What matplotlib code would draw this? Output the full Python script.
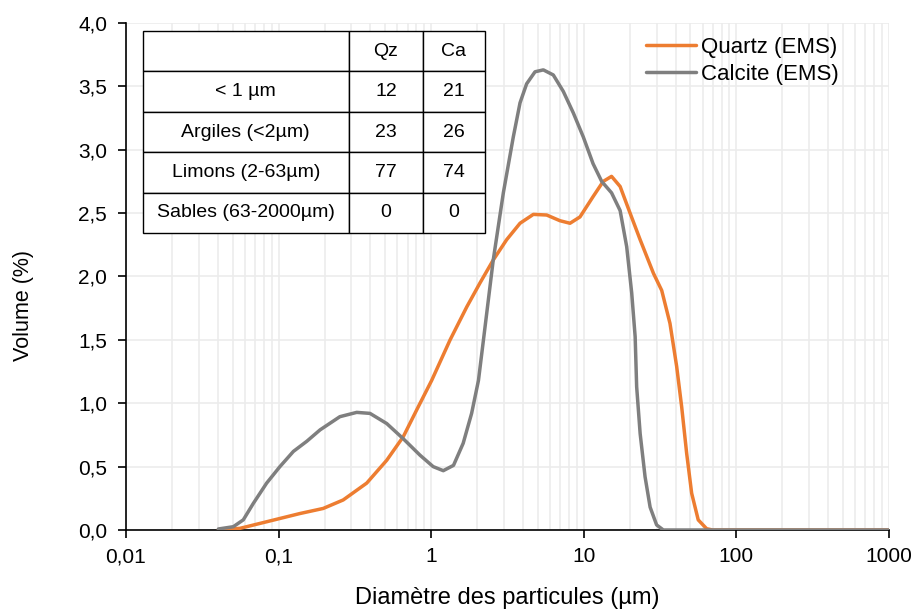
import matplotlib
matplotlib.use("Agg")
import matplotlib.pyplot as plt
from matplotlib.ticker import FixedLocator, FuncFormatter, NullFormatter, LogLocator

plt.rcParams['font.family'] = ['Liberation Sans', 'DejaVu Sans']

# Data
quartz_x = [0.0403, 0.0558, 0.0835, 0.138, 0.196, 0.265, 0.378, 0.511, 0.656, 0.803, 1.007,
            1.33, 1.71, 2.09, 2.55, 3.12, 3.82, 4.67, 5.71, 6.98, 8.12, 9.44, 11.5, 13.4,
            15.2, 17.3, 20.1, 23.4, 28.6, 32.4, 36.7, 40.6, 43.8, 47.2, 50.9, 56.2, 63.8,
            70, 1000]
quartz_y = [0.0, 0.013, 0.065, 0.13, 0.17, 0.237, 0.37, 0.55, 0.736, 0.947, 1.18,
            1.50, 1.76, 1.95, 2.13, 2.29, 2.42, 2.49, 2.485, 2.44, 2.42, 2.47, 2.63, 2.75,
            2.79, 2.71, 2.50, 2.29, 2.025, 1.89, 1.63, 1.29, 0.97, 0.605, 0.29, 0.08, 0.01,
            0.0, 0.0]

calcite_x = [0.0403, 0.0505, 0.0587, 0.0683, 0.0835, 0.102, 0.125, 0.153, 0.187, 0.252,
             0.325, 0.397, 0.511, 0.656, 0.845, 1.03, 1.2, 1.40, 1.62, 1.84, 2.04, 2.2,
             2.55, 2.97, 3.45, 3.82, 4.22, 4.79, 5.43, 6.31, 7.34, 8.54, 9.93, 11.5, 13.1,
             15.2, 17.3, 19.1, 20.6, 21.7, 22.2, 23.4, 25.2, 27.2, 30.0, 33.2, 1000]
calcite_y = [0.008, 0.026, 0.08, 0.21, 0.37, 0.50, 0.62, 0.70, 0.79, 0.894,
             0.928, 0.92, 0.84, 0.72, 0.59, 0.50, 0.468, 0.51, 0.684, 0.92, 1.18, 1.50,
             2.13, 2.66, 3.10, 3.37, 3.52, 3.615, 3.63, 3.59, 3.46, 3.29, 3.10, 2.89, 2.75,
             2.66, 2.52, 2.235, 1.87, 1.525, 1.13, 0.76, 0.42, 0.18, 0.04, 0.0, 0.0]

table_rows = ["< 1 µm", "Argiles (<2µm)", "Limons (2-63µm)", "Sables (63-2000µm)"]
table_cols = ["Qz", "Ca"]
qz_vals = [12, 23, 77, 0]
ca_vals = [21, 26, 74, 0]

x_ticks = [0.01, 0.1, 1, 10, 100, 1000]
x_ticklabels = ["0,01", "0,1", "1", "10", "100", "1000"]
y_ticks = [0.0, 0.5, 1.0, 1.5, 2.0, 2.5, 3.0, 3.5, 4.0]

fig = plt.figure(figsize=(9.15, 6.13), dpi=100)
ax = fig.add_axes([0.1377, 0.1354, 0.9716 - 0.1377, 0.9625 - 0.1354])

ax.plot(quartz_x, quartz_y, color='#ED7D31', lw=2.5, label='Quartz (EMS)', zorder=3,
        solid_joinstyle='round', solid_capstyle='round')
ax.plot(calcite_x, calcite_y, color='#7F7F7F', lw=2.5, label='Calcite (EMS)', zorder=3,
        solid_joinstyle='round', solid_capstyle='round')

ax.set_xscale('log')
ax.set_xlim(0.01, 1000)
ax.set_ylim(0, 4.0)
ax.xaxis.set_major_locator(FixedLocator(x_ticks))
ax.set_xticklabels(x_ticklabels)
ax.xaxis.set_minor_locator(LogLocator(base=10, subs=range(2, 10), numticks=50))
ax.xaxis.set_minor_formatter(NullFormatter())
ax.yaxis.set_major_locator(FixedLocator(y_ticks))
ax.yaxis.set_major_formatter(FuncFormatter(lambda v, p: f"{v:.1f}".replace('.', ',')))

ax.grid(True, which='major', color='#ececec', lw=1.2, zorder=0)
ax.grid(True, which='minor', axis='x', color='#ececec', lw=1.2, zorder=0)
ax.set_axisbelow(True)

for s in ['top', 'right']:
    ax.spines[s].set_visible(False)
for s in ['left', 'bottom']:
    ax.spines[s].set_color('black')
    ax.spines[s].set_linewidth(1.2)

ax.tick_params(axis='both', which='major', direction='out', length=5.5, width=1.2,
               labelsize=15, colors='black')
ax.tick_params(axis='y', which='major', pad=8)
ax.tick_params(axis='x', which='major', pad=7)
ax.tick_params(axis='x', which='minor', length=0)

ax.set_xlabel("Diamètre des particules (µm)", fontsize=17)
ax.set_ylabel("Volume (%)", fontsize=15.5)
ax.xaxis.set_label_coords(0.5, -0.112)
ax.yaxis.set_label_coords(-0.121, 0.442)

leg = ax.legend(loc='upper left', bbox_to_anchor=(0.6815, 0.973), frameon=False, fontsize=16,
                handlelength=2.25, handletextpad=0.22, labelspacing=0.28, borderaxespad=0,
                borderpad=0)

cell_text = [["", table_cols[0], table_cols[1]]]
for r, q, c in zip(table_rows, qz_vals, ca_vals):
    cell_text.append([r, str(q), str(c)])
tb = ax.table(cellText=cell_text, cellLoc='center',
              colWidths=[206, 74, 62],
              bbox=[0.0219, 0.5858, 0.4705 - 0.0219, 0.984 - 0.5858], zorder=5)
tb.auto_set_font_size(False)
tb.set_fontsize(14)
for key, cell in tb.get_celld().items():
    cell.set_edgecolor('black')
    cell.set_linewidth(1.0)
    cell.set_facecolor('white')

fig.savefig("out.png", dpi=100)
